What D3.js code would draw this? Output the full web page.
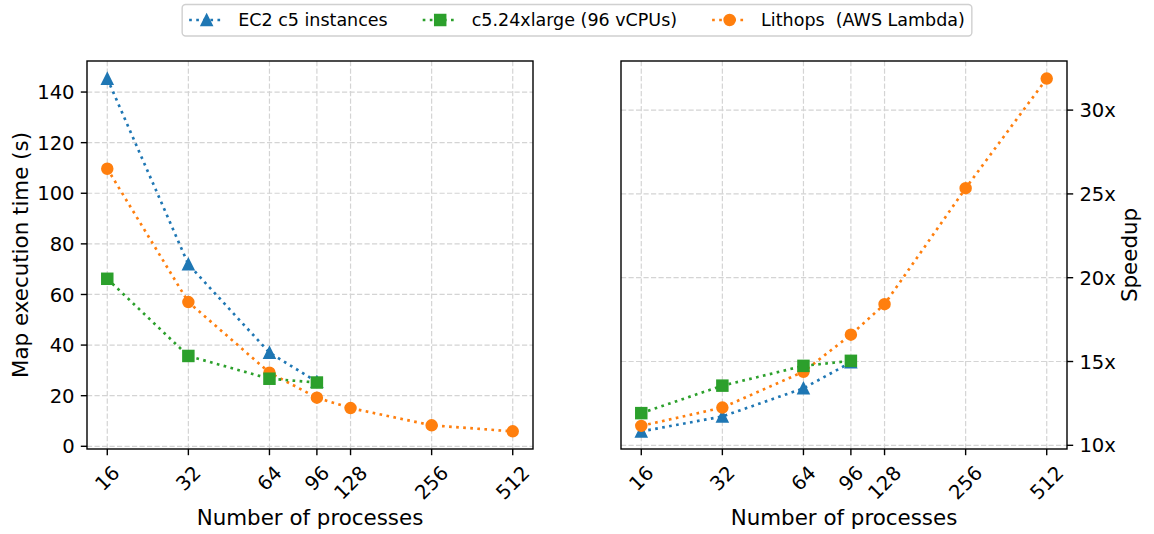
<!DOCTYPE html>
<html>
<head>
<meta charset="utf-8">
<script src="https://cdn.jsdelivr.net/npm/d3@7"></script>
<style>
  body { margin: 0; background: #fff; }
  svg text { font-family: "DejaVu Sans", sans-serif; fill: #000; }
</style>
</head>
<body>
<svg id="chart" width="1154" height="534"></svg>
<script>
// Number of processes (x axis, log2 scale)
const procs = [16, 32, 64, 96, 128, 256, 512];
const xTickLabels = ["16", "32", "64", "96", "128", "256", "512"];

// Map execution time in seconds
const ec2Time = [145.3, 71.9, 37.0, 25.5];
const c5Time = [66.2, 35.7, 26.7, 25.2];
const lithopsTime = [109.7, 57.0, 29.1, 19.2, 15.1, 8.3, 5.9];

// Speedup
const ec2Speedup = [10.83, 11.72, 13.4, 14.95];
const c5Speedup = [11.92, 13.56, 14.74, 15.04];
const lithopsSpeedup = [11.16, 12.25, 14.39, 16.6, 18.42, 25.34, 31.88];

const timeTicks = [0, 20, 40, 60, 80, 100, 120, 140];
const speedupTicks = [10, 15, 20, 25, 30];

const seriesNames = ["EC2 c5 instances", "c5.24xlarge (96 vCPUs)", "Lithops  (AWS Lambda)"];
const seriesColors = ["#1f77b4", "#2ca02c", "#ff7f0e"];
const seriesMarkers = ["triangle", "square", "circle"];

const svg = d3.select("#chart");
const TICK_FS = 19.6, LABEL_FS = 21.4, LEGEND_FS = 17.5;
const TICK_LEN = 6.2, TICK_PAD = 6.2;
const LW = 2.67, MS = 10.7, MEW = 1.78;

function marker(g, type, x, y, color) {
  let m;
  if (type === "circle") {
    m = g.append("circle").attr("cx", x).attr("cy", y).attr("r", MS / 2);
  } else if (type === "square") {
    m = g.append("rect").attr("x", x - MS / 2).attr("y", y - MS / 2)
      .attr("width", MS).attr("height", MS);
  } else {
    const h = MS / 2;
    m = g.append("path").attr("d", `M${x},${y - h}L${x - h},${y + h}L${x + h},${y + h}Z`);
  }
  m.attr("fill", color).attr("stroke", color).attr("stroke-width", MEW)
    .attr("stroke-linejoin", "miter");
}

function drawPanel(box, yDomain, yTicks, yFmt, ySide, series, yLabel) {
  const x = d3.scaleLog().base(2).domain([Math.pow(2, 3.75), Math.pow(2, 9.25)]).range([box.x0, box.x1]);
  const y = d3.scaleLinear().domain(yDomain).range([box.y1, box.y0]);
  const g = svg.append("g");

  // grid
  const grid = g.append("g").attr("stroke", "#d4d4d4").attr("stroke-width", 1.2)
    .attr("stroke-dasharray", "5.2,2.3");
  procs.forEach(p => grid.append("line").attr("x1", x(p)).attr("x2", x(p))
    .attr("y1", box.y0).attr("y2", box.y1));
  yTicks.forEach(t => grid.append("line").attr("y1", y(t)).attr("y2", y(t))
    .attr("x1", box.x0).attr("x2", box.x1));

  // series: lines + markers
  const line = d3.line().x((d, i) => x(procs[i])).y(d => y(d));
  series.forEach(s => {
    const sg = g.append("g");
    sg.append("path").attr("d", line(s.values)).attr("fill", "none")
      .attr("stroke", s.color).attr("stroke-width", LW)
      .attr("stroke-dasharray", `${LW},${LW * 1.65}`);
    s.values.forEach((v, i) => marker(sg, s.marker, x(procs[i]), y(v), s.color));
  });

  // frame
  g.append("rect").attr("x", box.x0).attr("y", box.y0)
    .attr("width", box.x1 - box.x0).attr("height", box.y1 - box.y0)
    .attr("fill", "none").attr("stroke", "#000").attr("stroke-width", 1.4);

  // x ticks
  const xa = g.append("g");
  procs.forEach((p, i) => {
    const px = x(p);
    xa.append("line").attr("x1", px).attr("x2", px).attr("y1", box.y1).attr("y2", box.y1 + TICK_LEN)
      .attr("stroke", "#000").attr("stroke-width", 1.4);
    const t = xa.append("text").text(xTickLabels[i]).attr("font-size", TICK_FS)
      .attr("text-anchor", "middle").attr("dy", "0.346em");
    const w = t.node().getComputedTextLength();
    const h = TICK_FS * 1.164;
    const R = (w + h) * Math.SQRT1_2;
    const cy = box.y1 + TICK_LEN + TICK_PAD + R / 2;
    t.attr("transform", `translate(${px},${cy}) rotate(-45)`);
  });

  // y ticks
  const ya = g.append("g");
  const edge = ySide === "left" ? box.x0 : box.x1;
  const dir = ySide === "left" ? -1 : 1;
  yTicks.forEach(v => {
    ya.append("line").attr("x1", edge).attr("x2", edge + dir * TICK_LEN)
      .attr("y1", y(v)).attr("y2", y(v)).attr("stroke", "#000").attr("stroke-width", 1.4);
    ya.append("text").text(yFmt(v)).attr("font-size", TICK_FS)
      .attr("x", edge + dir * (TICK_LEN + TICK_PAD)).attr("y", y(v)).attr("dy", "0.36em")
      .attr("text-anchor", ySide === "left" ? "end" : "start");
  });

  // axis labels
  g.append("text").text("Number of processes").attr("font-size", LABEL_FS)
    .attr("text-anchor", "middle").attr("x", (box.x0 + box.x1) / 2).attr("y", 525);
  const ly = (box.y0 + box.y1) / 2;
  const lx = ySide === "left" ? 28.3 : 1137;
  g.append("text").text(yLabel).attr("font-size", LABEL_FS).attr("text-anchor", "middle")
    .attr("transform", `translate(${lx},${ly}) rotate(-90)`);
}

const leftBox = { x0: 87, x1: 533, y0: 61, y1: 449 };
const rightBox = { x0: 621, x1: 1067, y0: 61, y1: 449 };

drawPanel(leftBox, [-1.07, 152.27], timeTicks, d => String(d), "left", [
  { values: ec2Time, color: seriesColors[0], marker: seriesMarkers[0] },
  { values: lithopsTime, color: seriesColors[2], marker: seriesMarkers[2] },
  { values: c5Time, color: seriesColors[1], marker: seriesMarkers[1] }
], "Map execution time (s)");

drawPanel(rightBox, [9.78, 32.93], speedupTicks, d => d + "x", "right", [
  { values: ec2Speedup, color: seriesColors[0], marker: seriesMarkers[0] },
  { values: lithopsSpeedup, color: seriesColors[2], marker: seriesMarkers[2] },
  { values: c5Speedup, color: seriesColors[1], marker: seriesMarkers[1] }
], "Speedup");

// legend, centered above both panels
(function legend() {
  const lg = svg.append("g");
  const box = lg.append("rect").attr("fill", "#fff").attr("stroke", "#d0d0d0")
    .attr("stroke-width", 1.4).attr("rx", 3.5).attr("ry", 3.5);
  const em = LEGEND_FS;
  const handleLen = 2 * em, textPad = 0.8 * em, colSpace = 2 * em, borderPad = 0.4 * em;
  const cy = 20;
  const items = seriesNames.map((name, i) => {
    const ig = lg.append("g");
    const t = ig.append("text").text(name).attr("font-size", LEGEND_FS)
      .attr("dy", "0.36em").attr("y", cy).style("white-space", "pre");
    return { g: ig, t: t, w: t.node().getComputedTextLength(), i: i };
  });
  const total = items.reduce((a, it) => a + handleLen + textPad + it.w, 0)
    + colSpace * (items.length - 1) + 2 * borderPad;
  const x0 = 1154 / 2 - total / 2;
  let cx = x0 + borderPad;
  items.forEach(it => {
    const c = seriesColors[it.i];
    it.g.append("line").attr("x1", cx).attr("x2", cx + handleLen).attr("y1", cy).attr("y2", cy)
      .attr("stroke", c).attr("stroke-width", LW).attr("stroke-dasharray", `${LW},${LW * 1.65}`);
    marker(it.g, seriesMarkers[it.i], cx + handleLen / 2, cy, c);
    it.t.attr("x", cx + handleLen + textPad);
    cx += handleLen + textPad + it.w + colSpace;
  });
  box.attr("x", x0).attr("y", 4.5).attr("width", total).attr("height", 31.5);
})();
</script>
</body>
</html>
